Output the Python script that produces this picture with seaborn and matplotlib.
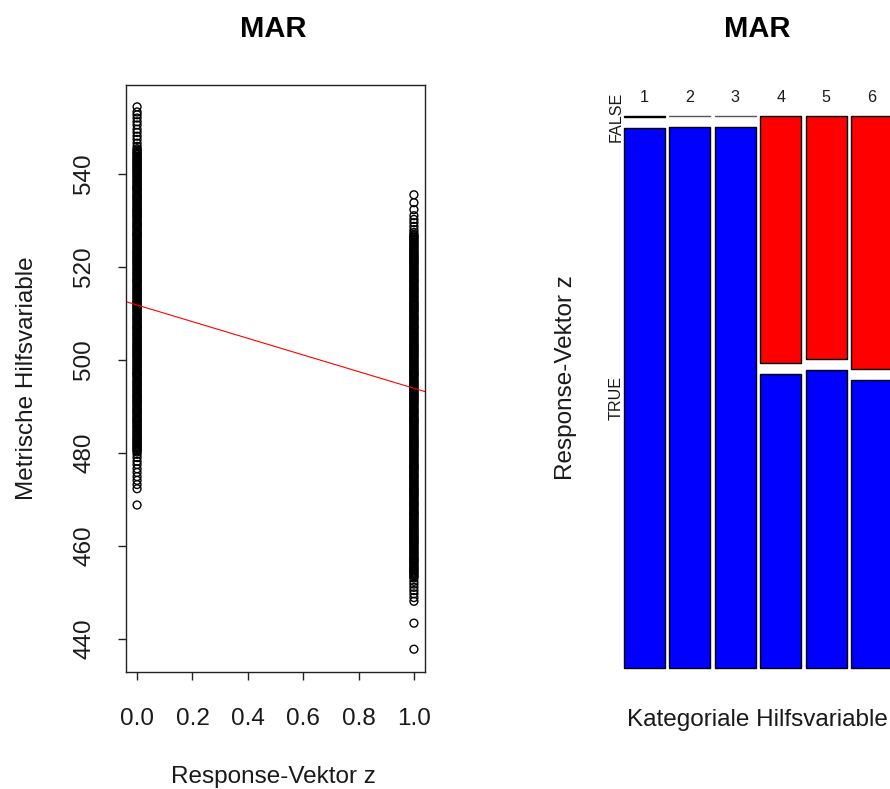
import numpy as np
import pandas as pd
import matplotlib
matplotlib.use("Agg")
import matplotlib.pyplot as plt
import seaborn as sns

# ---------------- data ----------------
# metric auxiliary variable for response z = 0: sparse ends of the strip
z0_tails = [554.4, 553.3,
            552.7, 552.0, 551.2, 550.5, 549.6, 548.9, 548.1, 547.4, 546.6, 545.9,
            479.7, 479.0, 478.2, 477.5, 476.6, 475.8, 474.9, 474.1, 473.2, 472.3,
            468.8]
# dense (solid-looking) core of the z = 0 strip
z0_core = [480.2, 480.45, 480.7, 480.95, 481.15, 481.4, 481.65, 481.9,
           482.1, 482.35, 482.6, 482.85, 483.05, 483.3, 483.55, 483.8,
           484.1, 484.35, 484.6, 484.85, 485.15, 485.4, 485.65, 485.9,
           486.2, 486.45, 486.7, 486.95, 487.05, 487.3, 487.55, 487.8,
           488.15, 488.4, 488.65, 488.9, 489.1, 489.35, 489.6, 489.85,
           490.2, 490.45, 490.7, 490.95, 491.15, 491.4, 491.65, 491.9,
           492.05, 492.3, 492.55, 492.8, 493.1, 493.35, 493.6, 493.85,
           494.15, 494.4, 494.65, 494.9, 495.1, 495.35, 495.6, 495.85,
           496.2, 496.45, 496.7, 496.95, 497.05, 497.3, 497.55, 497.8,
           498.1, 498.35, 498.6, 498.85, 499.15, 499.4, 499.65, 499.9,
           500.2, 500.45, 500.7, 500.95, 501.15, 501.4, 501.65, 501.9,
           502.1, 502.35, 502.6, 502.85, 503.05, 503.3, 503.55, 503.8,
           504.1, 504.35, 504.6, 504.85, 505.15, 505.4, 505.65, 505.9,
           506.2, 506.45, 506.7, 506.95, 507.05, 507.3, 507.55, 507.8,
           508.15, 508.4, 508.65, 508.9, 509.1, 509.35, 509.6, 509.85,
           510.2, 510.45, 510.7, 510.95, 511.15, 511.4, 511.65, 511.9,
           512.05, 512.3, 512.55, 512.8, 513.1, 513.35, 513.6, 513.85,
           514.15, 514.4, 514.65, 514.9, 515.1, 515.35, 515.6, 515.85,
           516.2, 516.45, 516.7, 516.95, 517.05, 517.3, 517.55, 517.8,
           518.1, 518.35, 518.6, 518.85, 519.15, 519.4, 519.65, 519.9,
           520.2, 520.45, 520.7, 520.95, 521.15, 521.4, 521.65, 521.9,
           522.1, 522.35, 522.6, 522.85, 523.05, 523.3, 523.55, 523.8,
           524.1, 524.35, 524.6, 524.85, 525.15, 525.4, 525.65, 525.9,
           526.2, 526.45, 526.7, 526.95, 527.05, 527.3, 527.55, 527.8,
           528.15, 528.4, 528.65, 528.9, 529.1, 529.35, 529.6, 529.85,
           530.2, 530.45, 530.7, 530.95, 531.15, 531.4, 531.65, 531.9,
           532.05, 532.3, 532.55, 532.8, 533.1, 533.35, 533.6, 533.85,
           534.15, 534.4, 534.65, 534.9, 535.1, 535.35, 535.6, 535.85,
           536.2, 536.45, 536.7, 536.95, 537.05, 537.3, 537.55, 537.8,
           538.1, 538.35, 538.6, 538.85, 539.15, 539.4, 539.65, 539.9,
           540.2, 540.45, 540.7, 540.95, 541.15, 541.4, 541.65, 541.9,
           542.1, 542.35, 542.6, 542.85, 543.05, 543.3, 543.55, 543.8,
           544.1, 544.35, 544.6, 544.85, 545.15, 545.4]

# metric auxiliary variable for response z = 1: sparse ends of the strip
z1_tails = [535.5, 533.8, 532.3, 531.0,
            530.2, 529.5, 528.7, 528.0, 527.4,
            452.4, 451.8, 451.1, 450.4, 449.7, 448.9, 448.1,
            443.4, 437.8]
# dense (solid-looking) core of the z = 1 strip
z1_core = [453.1, 453.35, 453.6, 453.85, 454.15, 454.4, 454.65, 454.9,
           455.1, 455.35, 455.6, 455.85, 456.2, 456.45, 456.7, 456.95,
           457.05, 457.3, 457.55, 457.8, 458.1, 458.35, 458.6, 458.85,
           459.15, 459.4, 459.65, 459.9,
           460.2, 460.45, 460.7, 460.95, 461.15, 461.4, 461.65, 461.9,
           462.1, 462.35, 462.6, 462.85, 463.05, 463.3, 463.55, 463.8,
           464.1, 464.35, 464.6, 464.85, 465.15, 465.4, 465.65, 465.9,
           466.2, 466.45, 466.7, 466.95, 467.05, 467.3, 467.55, 467.8,
           468.15, 468.4, 468.65, 468.9, 469.1, 469.35, 469.6, 469.85,
           470.2, 470.45, 470.7, 470.95, 471.15, 471.4, 471.65, 471.9,
           472.05, 472.3, 472.55, 472.8, 473.1, 473.35, 473.6, 473.85,
           474.15, 474.4, 474.65, 474.9, 475.1, 475.35, 475.6, 475.85,
           476.2, 476.45, 476.7, 476.95, 477.05, 477.3, 477.55, 477.8,
           478.1, 478.35, 478.6, 478.85, 479.15, 479.4, 479.65, 479.9,
           480.2, 480.45, 480.7, 480.95, 481.15, 481.4, 481.65, 481.9,
           482.1, 482.35, 482.6, 482.85, 483.05, 483.3, 483.55, 483.8,
           484.1, 484.35, 484.6, 484.85, 485.15, 485.4, 485.65, 485.9,
           486.2, 486.45, 486.7, 486.95, 487.05, 487.3, 487.55, 487.8,
           488.15, 488.4, 488.65, 488.9, 489.1, 489.35, 489.6, 489.85,
           490.2, 490.45, 490.7, 490.95, 491.15, 491.4, 491.65, 491.9,
           492.05, 492.3, 492.55, 492.8, 493.1, 493.35, 493.6, 493.85,
           494.15, 494.4, 494.65, 494.9, 495.1, 495.35, 495.6, 495.85,
           496.2, 496.45, 496.7, 496.95, 497.05, 497.3, 497.55, 497.8,
           498.1, 498.35, 498.6, 498.85, 499.15, 499.4, 499.65, 499.9,
           500.2, 500.45, 500.7, 500.95, 501.15, 501.4, 501.65, 501.9,
           502.1, 502.35, 502.6, 502.85, 503.05, 503.3, 503.55, 503.8,
           504.1, 504.35, 504.6, 504.85, 505.15, 505.4, 505.65, 505.9,
           506.2, 506.45, 506.7, 506.95, 507.05, 507.3, 507.55, 507.8,
           508.15, 508.4, 508.65, 508.9, 509.1, 509.35, 509.6, 509.85,
           510.2, 510.45, 510.7, 510.95, 511.15, 511.4, 511.65, 511.9,
           512.05, 512.3, 512.55, 512.8, 513.1, 513.35, 513.6, 513.85,
           514.15, 514.4, 514.65, 514.9, 515.1, 515.35, 515.6, 515.85,
           516.2, 516.45, 516.7, 516.95, 517.05, 517.3, 517.55, 517.8,
           518.1, 518.35, 518.6, 518.85, 519.15, 519.4, 519.65, 519.9,
           520.2, 520.45, 520.7, 520.95, 521.15, 521.4, 521.65, 521.9,
           522.1, 522.35, 522.6, 522.85, 523.05, 523.3, 523.55, 523.8,
           524.1, 524.35, 524.6, 524.85, 525.15, 525.4, 525.65, 525.9,
           526.2, 526.45, 526.7, 526.95]

# fitted regression line (abline)
line_intercept = 511.8
line_slope = -17.9

x_ticks = [0.0, 0.2, 0.4, 0.6, 0.8, 1.0]
y_ticks = [440, 460, 480, 500, 520, 540]

# mosaic: categorical auxiliary variable vs response
categories = ["1", "2", "3", "4", "5", "6"]
cat_weight = [1, 1, 1, 1, 1, 1]
false_share = [0.0024, 0.0, 0.0, 0.456, 0.449, 0.468]
row_labels = ["FALSE", "TRUE"]

# ---------------- style ----------------
sns.set_style("white")
plt.rcParams["font.family"] = ["Liberation Sans", "DejaVu Sans"]

W, H = 890, 789
fig = plt.figure(figsize=(W / 100, H / 100), dpi=100)

def fx(px):
    return px / W

def fy(py):
    return 1 - py / H

# ---------------- left panel ----------------
axL = fig.add_axes([fx(126), fy(672), fx(425) - fx(126), fy(85) - fy(672)])
z0_all = z0_tails + z0_core
z1_all = z1_tails + z1_core
df = pd.DataFrame({
    "z": [0.0] * len(z0_all) + [1.0] * len(z1_all),
    "value": z0_all + z1_all,
})
sns.scatterplot(data=df, x="z", y="value", ax=axL, s=32, linewidth=1.0,
                marker="o", legend=False)
for coll in axL.collections:
    coll.set_facecolor("none")
    coll.set_edgecolor("black")
    coll.set_linewidth(1.0)

axL.axline((0, line_intercept), slope=line_slope, color="red", lw=0.8)

axL.set_xlim(-0.04, 1.04)
axL.set_ylim(432.9, 559.1)
axL.set_xticks(x_ticks)
axL.set_xticklabels([f"{v:.1f}" for v in x_ticks])
axL.set_yticks(y_ticks)
axL.set_yticklabels([str(v) for v in y_ticks])
axL.set_xlabel("")
axL.set_ylabel("")
for sp in axL.spines.values():
    sp.set_visible(True)
    sp.set_color("#222222")
    sp.set_linewidth(1.0)
axL.tick_params(axis="both", which="major", length=6, width=1.0, color="#222222",
                labelsize=17.5, labelcolor="#1a1a1a", direction="out",
                bottom=True, left=True)
axL.tick_params(axis="x", pad=20)
axL.tick_params(axis="y", pad=16, labelrotation=90)
for lab in axL.get_yticklabels():
    lab.set_va("center")

fig.text(fx(273), fy(37), "MAR", fontsize=21, fontweight="bold",
         ha="center", va="baseline", color="black")
fig.text(fx(273), fy(783), "Response-Vektor z", fontsize=17.5,
         ha="center", va="baseline", color="#1a1a1a")
fig.text(fx(27), fy(378), "Metrische Hilfsvariable", fontsize=17.5,
         rotation=90, ha="center", va="center", color="#1a1a1a")

# ---------------- right panel (mosaic) ----------------
axR = fig.add_axes([fx(624), fy(668), fx(892) - fx(624), fy(116) - fy(668)])
axR.set_xlim(0, 1)
axR.set_ylim(0, 1)
axR.axis("off")

n = len(categories)
gap_x = 4.4 / 268
gap_y = 10.7 / 552
avail_x = 1 - gap_x * (n - 1)
avail_y = 1 - gap_y
tot_w = float(sum(cat_weight))
widths = [w / tot_w * avail_x for w in cat_weight]
lefts = []
cur = 0.0
for w in widths:
    lefts.append(cur)
    cur += w + gap_x

true_h = [(1 - f) * avail_y for f in false_share]
false_h = [f * avail_y for f in false_share]

axR.bar(lefts, true_h, width=widths, bottom=0, align="edge",
        color="#0000FF", edgecolor="black", linewidth=1.0, clip_on=False)
for l, w, fh in zip(lefts, widths, false_h):
    if fh > 0:
        axR.bar([l], [fh], width=[w], bottom=1 - fh, align="edge",
                color="#FF0000", edgecolor="black", linewidth=1.0, clip_on=False)
    else:
        axR.plot([l, l + w], [1, 1], color="#555555", lw=1.0, clip_on=False)

for l, w, c in zip(lefts, widths, categories):
    axR.text(l + w / 2, 1 + 14.5 / 552, c, fontsize=11.6, ha="center",
             va="baseline", color="#1a1a1a", transform=axR.transData)

lab_x = fx(616)
false_center = 1 - false_h[0] / 2
true_center = true_h[0] / 2
for yc, lab in zip([false_center, true_center], row_labels):
    yfig = fy(668) + yc * (fy(116) - fy(668))
    fig.text(lab_x, yfig, lab, fontsize=11.6, rotation=90, ha="center",
             va="center", color="#1a1a1a")

fig.text(fx(757), fy(37), "MAR", fontsize=21, fontweight="bold",
         ha="center", va="baseline", color="black")
fig.text(fx(757), fy(726), "Kategoriale Hilfsvariable", fontsize=17.5,
         ha="center", va="baseline", color="#1a1a1a")
fig.text(fx(566), fy(378), "Response-Vektor z", fontsize=17.5,
         rotation=90, ha="center", va="center", color="#1a1a1a")

fig.savefig("out.png", dpi=100, facecolor="white")
